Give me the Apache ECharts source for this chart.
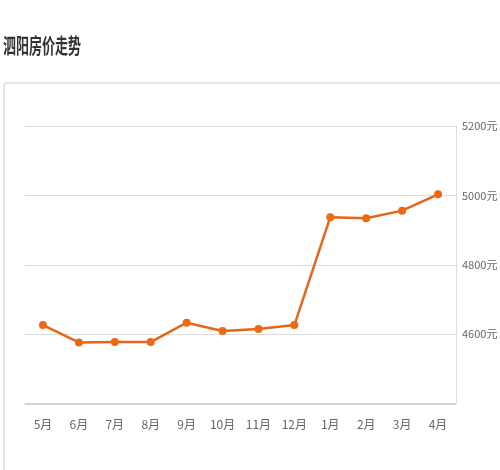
<!DOCTYPE html>
<html><head><meta charset="utf-8">
<script src="https://cdn.jsdelivr.net/npm/echarts@6/dist/echarts.min.js"></script>
<style>html,body{margin:0;padding:0;background:#fff}#c{width:500px;height:470px}</style>
</head><body><div id="c"></div>
<script>
var titleText = '泗阳房价走势';
var categories = ['5月','6月','7月','8月','9月','10月','11月','12月','1月','2月','3月','4月'];
var prices = [4626, 4576, 4577, 4577, 4633, 4609, 4615, 4626, 4937, 4934, 4956, 5003];
var yTicks = [4400, 4600, 4800, 5000, 5200];

var labelFont = '"Noto Sans CJK SC", sans-serif';
var chart = echarts.init(document.getElementById('c'), null, {renderer:'canvas'});
chart.setOption({
  animation:false,
  backgroundColor:'#fff',
  graphic:[
    {type:'rect',shape:{x:4,y:83,width:520,height:420,r:3},style:{fill:'#fff',stroke:'#ddd',lineWidth:1.5},z:-1,silent:true},
    {type:'text',x:3,y:45,scaleX:0.62,style:{text:titleText,fontSize:21,fontWeight:'bold',fill:'#333',fontFamily:'Noto Sans CJK SC',textVerticalAlign:'middle',textAlign:'left'},silent:true}
  ],
  grid:{left:25,right:44,top:126,bottom:66.5,outerBoundsMode:'none',containLabel:false},
  xAxis:{type:'category',data:categories,boundaryGap:true,
    axisLine:{lineStyle:{color:'#ccc',width:1.5}},
    axisTick:{alignWithLabel:true,length:5,lineStyle:{color:'#ddd'}},
    axisLabel:{color:'#666',fontSize:12,margin:15,fontFamily:labelFont},
    splitLine:{show:false}},
  yAxis:{type:'value',position:'right',min:yTicks[0],max:yTicks[yTicks.length-1],interval:200,
    axisLine:{show:true,lineStyle:{color:'#ddd'}},
    axisTick:{show:false},
    axisLabel:{color:'#666',fontSize:11,margin:6,showMinLabel:false,fontFamily:labelFont,
      formatter:function(v){return v+'元';}},
    splitLine:{lineStyle:{color:'#ddd',width:1}}},
  series:[{type:'line',data:prices,symbol:'circle',symbolSize:8,
    lineStyle:{color:'#e5661a',width:2.5},
    itemStyle:{color:'#ee6a10'}}]
});
</script></body></html>
